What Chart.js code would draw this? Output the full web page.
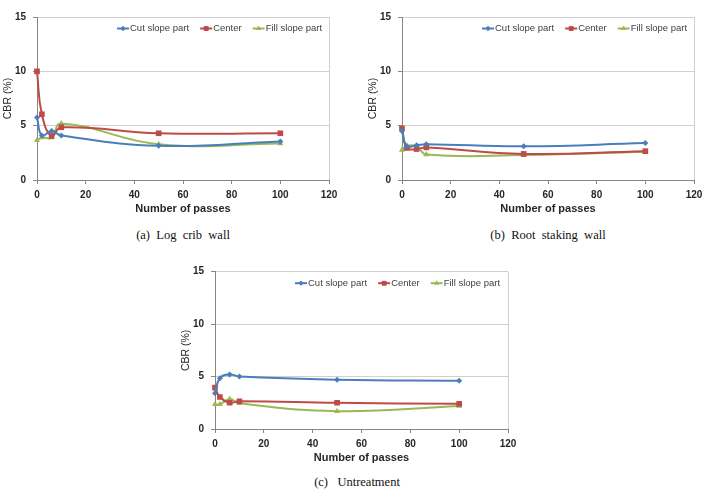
<!DOCTYPE html>
<html>
<head>
<meta charset="utf-8">
<script src="https://cdn.jsdelivr.net/npm/chart.js@4.4.0/dist/chart.umd.min.js"></script>
<style>
    body { margin: 0; background: #fff; width: 708px; height: 493px; position: relative; overflow: hidden; }
    canvas { position: absolute; }
    .caption { position: absolute; font-family: "Liberation Serif", serif; font-size: 12.5px; color: #111; white-space: pre; transform: translateX(-50%); }
</style>
</head>
<body>
<canvas id="chartA" width="354" height="225" style="left:0px;top:0px"></canvas>
<canvas id="chartB" width="343" height="225" style="left:365px;top:0px"></canvas>
<canvas id="chartC" width="355" height="219" style="left:178px;top:255px"></canvas>
<div class="caption" style="left:183px;top:228px">(a)  Log  crib  wall</div>
<div class="caption" style="left:548px;top:228px">(b)  Root  staking  wall</div>
<div class="caption" style="left:357px;top:475px">(c)   Untreatment</div>
<script>
// Datos del gráfico
const passes = [0, 2, 6, 10, 50, 100];
const seriesNames = ['Cut slope part', 'Center', 'Fill slope part'];

const logCribCut = [5.75, 4.1, 4.5, 4.1, 3.15, 3.55];
const logCribCenter = [10.0, 6.05, 4.05, 4.85, 4.3, 4.3];
const logCribFill = [3.65, 3.9, 3.9, 5.2, 3.3, 3.35];

const rootCut = [4.5, 3.1, 3.2, 3.3, 3.1, 3.4];
const rootCenter = [4.75, 2.95, 2.85, 3.0, 2.4, 2.65];
const rootFill = [2.75, 3.15, 3.1, 2.35, 2.3, 2.6];

const untreatCut = [3.4, 4.85, 5.2, 5.0, 4.7, 4.6];
const untreatCenter = [3.95, 3.05, 2.5, 2.65, 2.5, 2.4];
const untreatFill = [2.35, 2.35, 2.85, 2.45, 1.7, 2.2];

const xTitle = 'Number of passes';
const yTitle = 'CBR (%)';

// Estilos de las series (estilo Excel)
const seriesStyles = [
    { color: '#4A7EBB', pointStyle: 'rectRot', radius: 3 },
    { color: '#BE4B48', pointStyle: 'rect', radius: 4 },
    { color: '#98B954', pointStyle: 'triangle', radius: 3.5 }
];

const fuenteEjes = { family: '"Liberation Sans", Arial, sans-serif', size: 10, weight: 'bold' };

// Leyenda dentro del área del gráfico
const leyendaInterna = {
    id: 'leyendaInterna',
    afterDatasetsDraw(chart) {
        const ctx = chart.ctx;
        const area = chart.chartArea;
        let x = area.left + 80;
        const y = area.top + 11.5;
        ctx.save();
        ctx.font = '9.5px "Liberation Sans", Arial, sans-serif';
        ctx.textBaseline = 'middle';
        ctx.textAlign = 'left';
        chart.data.datasets.forEach((ds, i) => {
            const st = seriesStyles[i];
            ctx.strokeStyle = st.color;
            ctx.lineWidth = 2;
            ctx.beginPath();
            ctx.moveTo(x, y);
            ctx.lineTo(x + 12, y);
            ctx.stroke();
            ctx.fillStyle = st.color;
            Chart.helpers.drawPoint(ctx, { pointStyle: st.pointStyle, radius: st.radius * 0.8, rotation: 0, borderWidth: 0 }, x + 6, y);
            ctx.fill();
            ctx.fillStyle = '#404040';
            ctx.fillText(ds.label, x + 13, y);
            x += 13 + ctx.measureText(ds.label).width + 11;
        });
        ctx.restore();
    }
};

// Borde derecho del área de trazado
const bordePlot = {
    id: 'bordePlot',
    beforeDatasetsDraw(chart) {
        const { ctx, chartArea: a } = chart;
        ctx.save();
        ctx.strokeStyle = '#D0D0D0';
        ctx.lineWidth = 1;
        ctx.beginPath();
        ctx.moveTo(Math.round(a.right) + 0.5, a.top);
        ctx.lineTo(Math.round(a.right) + 0.5, a.bottom);
        ctx.stroke();
        ctx.restore();
    }
};

function crearGrafico(id, series, plot) {
    const canvas = document.getElementById(id);
    new Chart(canvas.getContext('2d'), {
        type: 'line',
        data: {
            datasets: series.map((valores, i) => ({
                label: seriesNames[i],
                data: passes.map((p, j) => ({ x: p, y: valores[j] })),
                borderColor: seriesStyles[i].color,
                backgroundColor: seriesStyles[i].color,
                borderWidth: 2,
                pointStyle: seriesStyles[i].pointStyle,
                pointRadius: seriesStyles[i].radius,
                pointBorderWidth: 0,
                tension: 0.45,
                clip: 8
            }))
        },
        options: {
            responsive: false,
            animation: false,
            layout: {
                padding: { left: 0, top: plot.top, right: canvas.width - plot.right, bottom: 0 }
            },
            plugins: {
                legend: { display: false },
                tooltip: { enabled: false }
            },
            scales: {
                x: {
                    type: 'linear',
                    min: 0,
                    max: 120,
                    ticks: { stepSize: 20, color: '#262626', font: fuenteEjes, padding: 5, maxRotation: 0 },
                    grid: { drawOnChartArea: false, drawTicks: true, tickLength: 4, color: '#868686' },
                    border: { color: '#868686', width: 1 },
                    title: { display: true, text: xTitle, color: '#262626', font: { ...fuenteEjes, size: 11 }, padding: { top: 0, bottom: 9 } },
                    afterFit(scale) { scale.height = canvas.height - plot.bottom; }
                },
                y: {
                    min: 0,
                    max: 15,
                    ticks: { stepSize: 5, color: '#262626', font: fuenteEjes, padding: 7 },
                    grid: { color: '#D0D0D0', tickColor: '#868686', tickLength: 4 },
                    border: { color: '#868686', width: 1 },
                    title: { display: true, text: yTitle, color: '#262626', font: { family: fuenteEjes.family, size: 10.5 }, padding: { top: 2, bottom: 0 } },
                    afterFit(scale) { scale.width = plot.left; }
                }
            }
        },
        plugins: [bordePlot, leyendaInterna]
    });
}

crearGrafico('chartA', [logCribCut, logCribCenter, logCribFill], { left: 37, top: 17, right: 329, bottom: 180 });
crearGrafico('chartB', [rootCut, rootCenter, rootFill], { left: 37, top: 17, right: 329, bottom: 180 });
crearGrafico('chartC', [untreatCut, untreatCenter, untreatFill], { left: 37, top: 16.7, right: 330, bottom: 174 });
</script>
</body>
</html>
